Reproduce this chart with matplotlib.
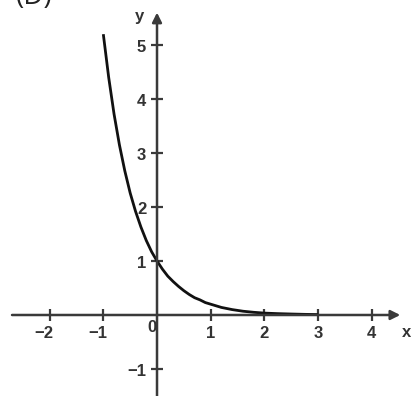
import matplotlib
matplotlib.use("Agg")
import matplotlib.pyplot as plt

# curve values
curve_x = [-1.0, -0.9, -0.8, -0.7, -0.6, -0.5, -0.4, -0.3, -0.2, -0.1, 0.0,
           0.1, 0.2, 0.3, 0.4, 0.5, 0.6, 0.7, 0.8, 0.9, 1.0,
           1.2, 1.4, 1.6, 1.8, 2.0, 2.25, 2.5, 2.75, 3.0]
curve_y = [5.2, 4.4, 3.72, 3.15, 2.67, 2.26, 1.92, 1.63, 1.38, 1.17, 1.0,
           0.85, 0.72, 0.62, 0.53, 0.45, 0.38, 0.32, 0.28, 0.23, 0.2,
           0.14, 0.10, 0.07, 0.05, 0.035, 0.025, 0.018, 0.012, 0.008]

x_ticks = [-2, -1, 1, 2, 3, 4]
y_ticks = [-1, 1, 2, 3, 4, 5]

axis_col = "#3a3a3a"
label_col = "#333333"

fig = plt.figure(figsize=(4.11, 3.96), dpi=100)
ax = fig.add_axes([0, 0, 1, 1])
ax.set_xlim(-2.924, 4.730)
ax.set_ylim(-1.5, 5.833)
ax.axis("off")

# axes with arrows
ax.annotate("", xy=(4.53, 0), xytext=(-2.70, 0),
            arrowprops=dict(arrowstyle="-|>", lw=1.8, color=axis_col,
                            mutation_scale=14, shrinkA=0, shrinkB=0))
ax.annotate("", xy=(0, 5.60), xytext=(0, -1.6),
            arrowprops=dict(arrowstyle="-|>", lw=1.8, color=axis_col,
                            mutation_scale=14, shrinkA=0, shrinkB=0))

# tick marks
ax.plot(x_ticks, [0] * len(x_ticks), ls="none", marker="|", ms=9,
        mew=1.6, color=axis_col)
ax.plot([0] * len(y_ticks), y_ticks, ls="none", marker="_", ms=9,
        mew=1.6, color=axis_col)

# tick labels
for t in x_ticks:
    lab = str(t).replace("-", "\u2212")
    dx = -0.1 if t < 0 else 0
    ax.text(t + dx, -0.34, lab, ha="center", va="center", fontsize=12,
            fontweight="bold", color=label_col, family="Liberation Sans")
for t in y_ticks:
    lab = str(t).replace("-", "\u2212")
    ax.text(-0.2, t - 0.05, lab, ha="right", va="center", fontsize=12,
            fontweight="bold", color=label_col, family="Liberation Sans")
ax.text(-0.09, -0.23, "0", ha="center", va="center", fontsize=12,
        fontweight="bold", color=label_col, family="Liberation Sans")

ax.text(4.65, -0.32, "x", ha="center", va="center", fontsize=12,
        fontweight="bold", color=label_col, family="Liberation Sans")
ax.text(-0.33, 5.52, "y", ha="center", va="center", fontsize=12,
        fontweight="bold", color=label_col, family="Liberation Sans")

# the curve
ax.plot(curve_x, curve_y, color="#111111", lw=2.0, solid_capstyle="butt")

# panel label
ax.text(-2.62, 5.88, "(D)", ha="left", va="center", fontsize=20,
        color="#222222", family="Open Sans")

fig.savefig("out.png", dpi=100)
